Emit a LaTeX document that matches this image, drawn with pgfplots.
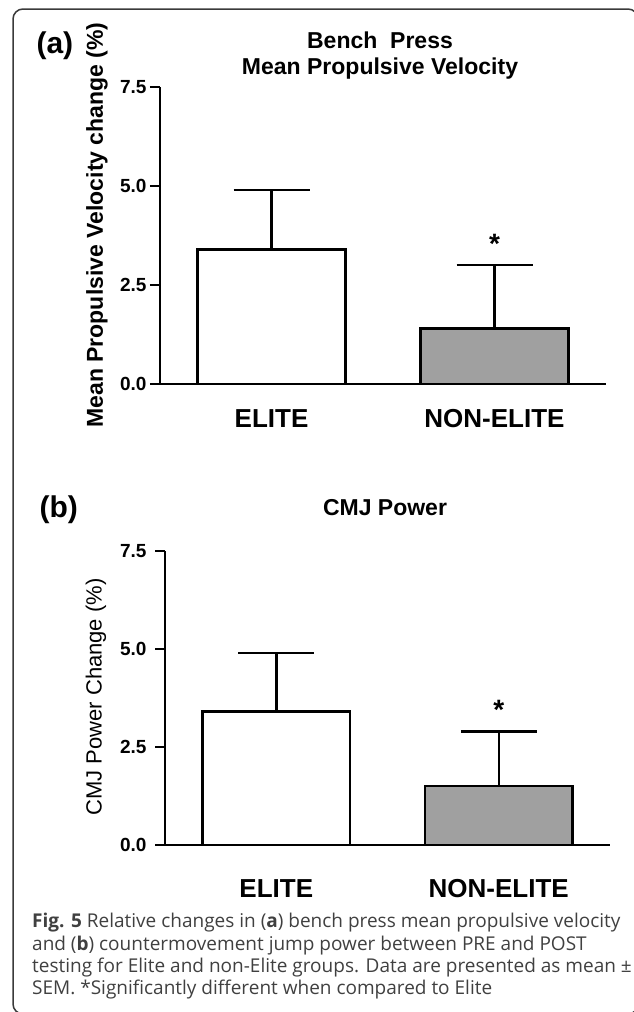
\documentclass[border=0pt]{standalone}
\usepackage{pgfplots}
\pgfplotsset{compat=1.18}
\usepackage{fontspec}
\setmainfont{Liberation Sans}
\newfontfamily\capfont{Open Sans}
\definecolor{bargray}{HTML}{A0A0A0}
\definecolor{framegray}{HTML}{3A3A3A}

\pgfplotsset{
  panel/.style={
    scale only axis,
    xmin=-0.5, xmax=1.5, ymin=0, ymax=7.5,
    axis x line=bottom, axis y line=left,
    axis line style={line width=2.5pt, -, black},
    xtick={0,1}, xticklabels={ELITE,NON-ELITE},
    major x tick style={draw=none},
    xticklabel style={font=\bfseries\fontsize{26}{26}\selectfont},
    ytick={0,2.5,5,7.5},
    tick align=outside, major tick length=10pt,
    major y tick style={line width=2.5pt, black},
    yticklabel style={font=\bfseries\fontsize{19}{19}\selectfont,
      /pgf/number format/fixed, /pgf/number format/fixed zerofill,
      /pgf/number format/precision=1, /pgf/number format/assume math mode=true},
    clip=false,
  },
  elitebar/.style={ybar, bar width=0.665, bar shift=0pt, draw=black, line width=2.5pt,
    error bars/.cd, y dir=plus, y explicit,
    error bar style={line width=2.5pt, black},
    error mark options={rotate=90, mark size=38pt, line width=2.5pt, black}},
}

\begin{document}
\begin{tikzpicture}
\useasboundingbox (0pt,0pt) rectangle (634pt,-1012pt);
\draw[framegray, line width=1.5pt, rounded corners=10pt] (13pt,-9pt) rectangle (638pt,-1014pt);

% panel (a)
\begin{axis}[panel, width=446pt, height=297pt, at={(160pt,-384pt)}, anchor=south west,
  xticklabel style={yshift=-12pt}]
  \addplot[fill=white, elitebar] coordinates {(0,3.4) +- (0,1.5)};
  \addplot[fill=bargray, elitebar] coordinates {(1,1.4) +- (0,1.6)};
  \node[anchor=north, inner sep=0pt, font=\bfseries\fontsize{28}{28}\selectfont]
    at (axis cs:1,3.0) [yshift=31pt] {*};
\end{axis}
\node[anchor=base west, font=\bfseries\fontsize{30}{30}\selectfont] at (33pt,-53pt) {(a)};
\node[anchor=base, font=\bfseries\fontsize{23}{23}\selectfont] at (380pt,-48pt) {Bench\ \ Press};
\node[anchor=base, font=\bfseries\fontsize{23}{23}\selectfont] at (380pt,-74pt) {Mean Propulsive Velocity};
\node[rotate=90, font=\bfseries\fontsize{23}{23}\selectfont] at (97pt,-225pt) {Mean Propulsive Velocity change (\%)};

% panel (b)
\begin{axis}[panel, width=445pt, height=294pt, at={(165pt,-845pt)}, anchor=south west,
  xticklabel style={yshift=-21pt}, yticklabel style={xshift=-5pt}]
  \addplot[fill=white, elitebar] coordinates {(0,3.4) +- (0,1.5)};
  \addplot[fill=bargray, elitebar] coordinates {(1,1.5) +- (0,1.4)};
  \node[anchor=north, inner sep=0pt, font=\bfseries\fontsize{28}{28}\selectfont]
    at (axis cs:1,2.9) [yshift=31pt] {*};
\end{axis}
\node[anchor=base west, font=\bfseries\fontsize{30}{30}\selectfont] at (36pt,-517pt) {(b)};
\node[anchor=base, font=\bfseries\fontsize{23}{23}\selectfont] at (385pt,-515pt) {CMJ Power};
\node[rotate=90, font=\fontsize{22}{22}\selectfont] at (96pt,-697pt) {CMJ Power Change (\%)};

% caption
\begin{scope}[every node/.style={anchor=base west, inner sep=0pt, font=\capfont\fontsize{19}{19}\selectfont, text=black!75}]
\node at (32pt,-927pt) {\textbf{Fig. 5} Relative changes in (\textbf{a}) bench press mean propulsive velocity};
\node at (32pt,-950pt) {and (\textbf{b}) countermovement jump power between PRE and POST};
\node at (32pt,-972pt) {testing for Elite and non-Elite groups. Data are presented as mean ±};
\node at (32pt,-994pt) {SEM. *Significantly different when compared to Elite};
\end{scope}
\end{tikzpicture}
\end{document}
